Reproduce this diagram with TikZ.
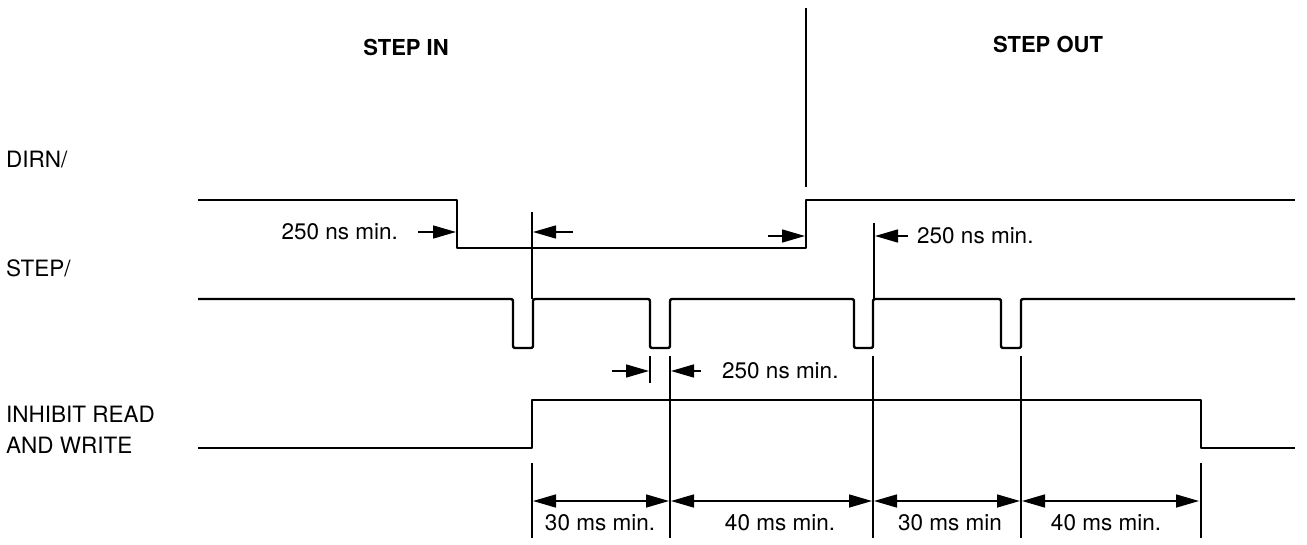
\documentclass[tikz,border=0pt]{standalone}
\usepackage{fontspec}
\setmainfont{TeX Gyre Heros}
\usetikzlibrary{arrows.meta}

\tikzset{
    signal/.style={line width=2.4pt, line join=round},
    marker/.style={line width=1.7pt},
    tip/.tip={Triangle[length=23pt, width=13pt]},
    dimarrow/.style={line width=1.5pt, -tip},
    dimboth/.style={line width=1.5pt, tip-tip},
    lbl/.style={font=\fontsize{22.5}{31}\selectfont, inner sep=0pt},
    heading/.style={lbl, font=\fontsize{22}{31}\selectfont\bfseries},
}

\begin{document}
\begin{tikzpicture}[x=1pt, y=-1pt]
    \useasboundingbox (0,0) rectangle (1307,544);

    \node[heading] (stepin) at (406,47) {STEP IN};
    \node[heading] (stepout) at (1048,44) {STEP OUT};
    \node[lbl, anchor=west] (dirn) at (6,160) {DIRN/};
    \node[lbl, anchor=west] (step) at (6,268) {STEP/};
    \node[lbl, anchor=west, align=left] (inhibit) at (6,430) {INHIBIT READ\\AND WRITE};

    \draw[marker] (806,8) -- (806,187);

    \draw[signal] (198,200) -| (457,248) -| (806,200) -- (1295,200);
    \draw[signal, rounded corners=2pt] (198,299) -| (513,348) -| (533,299)
        -| (650,348) -| (670,299) -| (854,348) -| (873,299)
        -| (1001,348) -| (1021,299) -- (1295,299);
    \draw[signal] (198,448) -| (532,400) -| (1201,448) -- (1295,448);

    \foreach \x/\ya/\yb in {532/212/299, 874/223/299, 650/356/383, 670/356/538,
                            873/356/538, 1021/356/538, 532/463/538, 1201/463/538}
        \draw[marker] (\x,\ya) -- (\x,\yb);

    \coordinate (a1) at (418,232);
    \coordinate (a2) at (573,232);
    \coordinate (a3) at (768,236);
    \coordinate (a4) at (908,236);
    \coordinate (a5) at (612,371);
    \coordinate (a6) at (701,371);
    \draw[dimarrow] (a1) -- (456,232);
    \draw[dimarrow] (a2) -- (533,232);
    \draw[dimarrow] (a3) -- (805,236);
    \draw[dimarrow] (a4) -- (875,236);
    \draw[dimarrow] (a5) -- (649,371);
    \draw[dimarrow] (a6) -- (671,371);

    \node[lbl, anchor=east] (ns1) at (398,232) {250 ns min.};
    \node[lbl, anchor=west] (ns2) at (917,236) {250 ns min.};
    \node[lbl, anchor=west] (ns3) at (722,371) {250 ns min.};

    \coordinate (t1) at (533,501);
    \coordinate (t2) at (671,501);
    \coordinate (t3) at (874,501);
    \coordinate (t4) at (1022,501);
    \coordinate (t5) at (1200,501);
    \draw[dimboth] (t1) -- ([xshift=-2pt]t2);
    \draw[dimboth] (t2) -- ([xshift=-2pt]t3);
    \draw[dimboth] (t3) -- ([xshift=-2pt]t4);
    \draw[dimboth] (t4) -- ([xshift=-1pt]t5);

    \node[lbl] (d1) at (600,523) {30 ms min.};
    \node[lbl] (d2) at (780,523) {40 ms min.};
    \node[lbl] (d3) at (950,523) {30 ms min};
    \node[lbl] (d4) at (1106,523) {40 ms min.};
\end{tikzpicture}
\end{document}
